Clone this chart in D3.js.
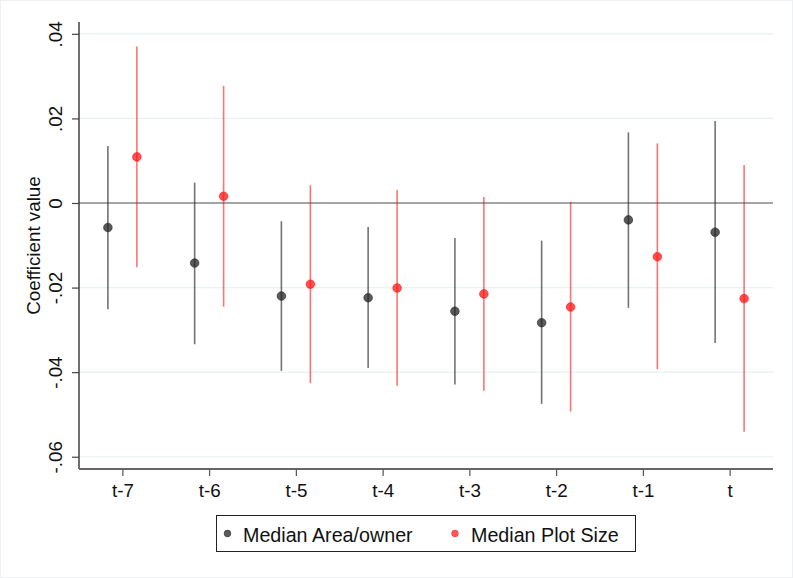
<!DOCTYPE html>
<html>
<head>
<meta charset="utf-8">
<script src="https://cdn.jsdelivr.net/npm/d3@7"></script>
<style>
  html, body { margin: 0; padding: 0; background: #fff; }
  svg { display: block; font-family: "Liberation Sans", Arial, Helvetica, sans-serif; }
</style>
</head>
<body>
<svg id="chart" width="793" height="578"></svg>
<script>
// Event-time periods
const periods = ["t-7", "t-6", "t-5", "t-4", "t-3", "t-2", "t-1", "t"];

// Median Area/owner: point estimates and 95% CI bounds
const areaCoef  = [-0.0058, -0.0142, -0.0220, -0.0224, -0.0256, -0.0283, -0.0040, -0.0069];
const areaLower = [-0.0251, -0.0334, -0.0397, -0.0390, -0.0429, -0.0475, -0.0248, -0.0331];
const areaUpper = [ 0.0135,  0.0048, -0.0043, -0.0057, -0.0083, -0.0089,  0.0167,  0.0194];

// Median Plot Size: point estimates and 95% CI bounds
const plotCoef  = [ 0.0109,  0.0016, -0.0192, -0.0201, -0.0215, -0.0246, -0.0127, -0.0226];
const plotLower = [-0.0152, -0.0245, -0.0426, -0.0432, -0.0444, -0.0493, -0.0393, -0.0541];
const plotUpper = [ 0.0370,  0.0277,  0.0042,  0.0031,  0.0014,  0.0002,  0.0141,  0.0090];

const yTicks = [0.04, 0.02, 0, -0.02, -0.04, -0.06];
const yTickLabels = [".04", ".02", "0", "-.02", "-.04", "-.06"];
const seriesNames = ["Median Area/owner", "Median Plot Size"];

const svg = d3.select("#chart");
const W = 793, H = 578;
const plot = { left: 79, right: 773, top: 22, bottom: 469 };
const axisFont = 18.8, legendFont = 19.7;

// faint frame round the graph
svg.append("rect").attr("x", 0.5).attr("y", 0.5).attr("width", W - 1).attr("height", H - 1)
  .attr("fill", "#fff").attr("stroke", "#eef0f2");

const x = d3.scaleLinear().domain([-0.5, periods.length - 0.5]).range([plot.left, plot.right]);
const y = d3.scaleLinear().domain([-0.0629, 0.0428]).range([plot.bottom, plot.top]);
const offset = 0.167;

// horizontal grid
svg.append("g").selectAll("line").data(yTicks).join("line")
  .attr("x1", plot.left).attr("x2", plot.right)
  .attr("y1", d => y(d)).attr("y2", d => y(d))
  .attr("stroke", "#e9f1f3").attr("stroke-width", 1.2);

// zero reference line
svg.append("line")
  .attr("x1", plot.left).attr("x2", plot.right)
  .attr("y1", y(0)).attr("y2", y(0))
  .attr("stroke", "#8a8a8a").attr("stroke-width", 1.4);

// y axis
const yAxis = d3.axisLeft(y).tickValues(yTicks)
  .tickFormat((d, i) => yTickLabels[i]).tickSize(7).tickPadding(5);
const gy = svg.append("g").attr("transform", `translate(${plot.left},0)`).call(yAxis);
gy.select(".domain").attr("d", `M0,${plot.top}V${plot.bottom}`).attr("stroke", "#222").attr("stroke-width", 1.3);
gy.selectAll(".tick line").attr("stroke", "#444").attr("stroke-width", 1.2);
gy.selectAll(".tick text")
  .attr("font-size", axisFont).attr("fill", "#111")
  .attr("text-anchor", "middle")
  .attr("x", null).attr("dy", null)
  .attr("transform", "translate(-17,0) rotate(-90)");

// x axis
const xAxis = d3.axisBottom(x).tickValues(d3.range(periods.length))
  .tickFormat(i => periods[i]).tickSize(7).tickPadding(8);
const gx = svg.append("g").attr("transform", `translate(0,${plot.bottom})`).call(xAxis);
gx.select(".domain").attr("d", `M${plot.left},0H${plot.right}`).attr("stroke", "#666").attr("stroke-width", 2);
gx.selectAll(".tick line").attr("stroke", "#555").attr("stroke-width", 1.2);
gx.selectAll(".tick text").attr("font-size", axisFont).attr("fill", "#111");

// y title
svg.append("text")
  .attr("transform", `translate(40,${(plot.top + plot.bottom) / 2}) rotate(-90)`)
  .attr("text-anchor", "middle")
  .attr("font-size", axisFont).attr("fill", "#111")
  .text("Coefficient value");

// coefficient series
const series = [
  { coef: areaCoef, lo: areaLower, hi: areaUpper, dx: -offset,
    line: "rgba(40,40,40,0.65)", dot: "rgba(35,35,35,0.75)" },
  { coef: plotCoef, lo: plotLower, hi: plotUpper, dx: offset,
    line: "rgba(255,0,0,0.55)", dot: "rgba(255,20,20,0.75)" }
];

series.forEach(s => {
  const g = svg.append("g");
  g.selectAll("line").data(periods).join("line")
    .attr("x1", (d, i) => x(i + s.dx)).attr("x2", (d, i) => x(i + s.dx))
    .attr("y1", (d, i) => y(s.hi[i])).attr("y2", (d, i) => y(s.lo[i]))
    .attr("stroke", s.line).attr("stroke-width", 1.6);
  g.selectAll("circle").data(periods).join("circle")
    .attr("cx", (d, i) => x(i + s.dx)).attr("cy", (d, i) => y(s.coef[i]))
    .attr("r", 4.3).attr("fill", s.dot).attr("stroke", s.dot).attr("stroke-width", 0.8);
});

// legend
const lg = svg.append("g");
lg.append("rect").attr("x", 216.5).attr("y", 515.5).attr("width", 419).attr("height", 36)
  .attr("fill", "#fff").attr("stroke", "#222").attr("stroke-width", 1);
const legendItems = [
  { name: seriesNames[0], cx: 227.5, tx: 243, fill: "rgba(35,35,35,0.75)" },
  { name: seriesNames[1], cx: 455, tx: 471, fill: "rgba(255,20,20,0.7)" }
];
legendItems.forEach(it => {
  lg.append("circle").attr("cx", it.cx).attr("cy", 533.5).attr("r", 3.4)
    .attr("fill", it.fill).attr("stroke", it.fill).attr("stroke-width", 0.6);
  lg.append("text").attr("x", it.tx).attr("y", 541.5).attr("font-size", legendFont).attr("fill", "#111")
    .text(it.name);
});
</script>
</body>
</html>
